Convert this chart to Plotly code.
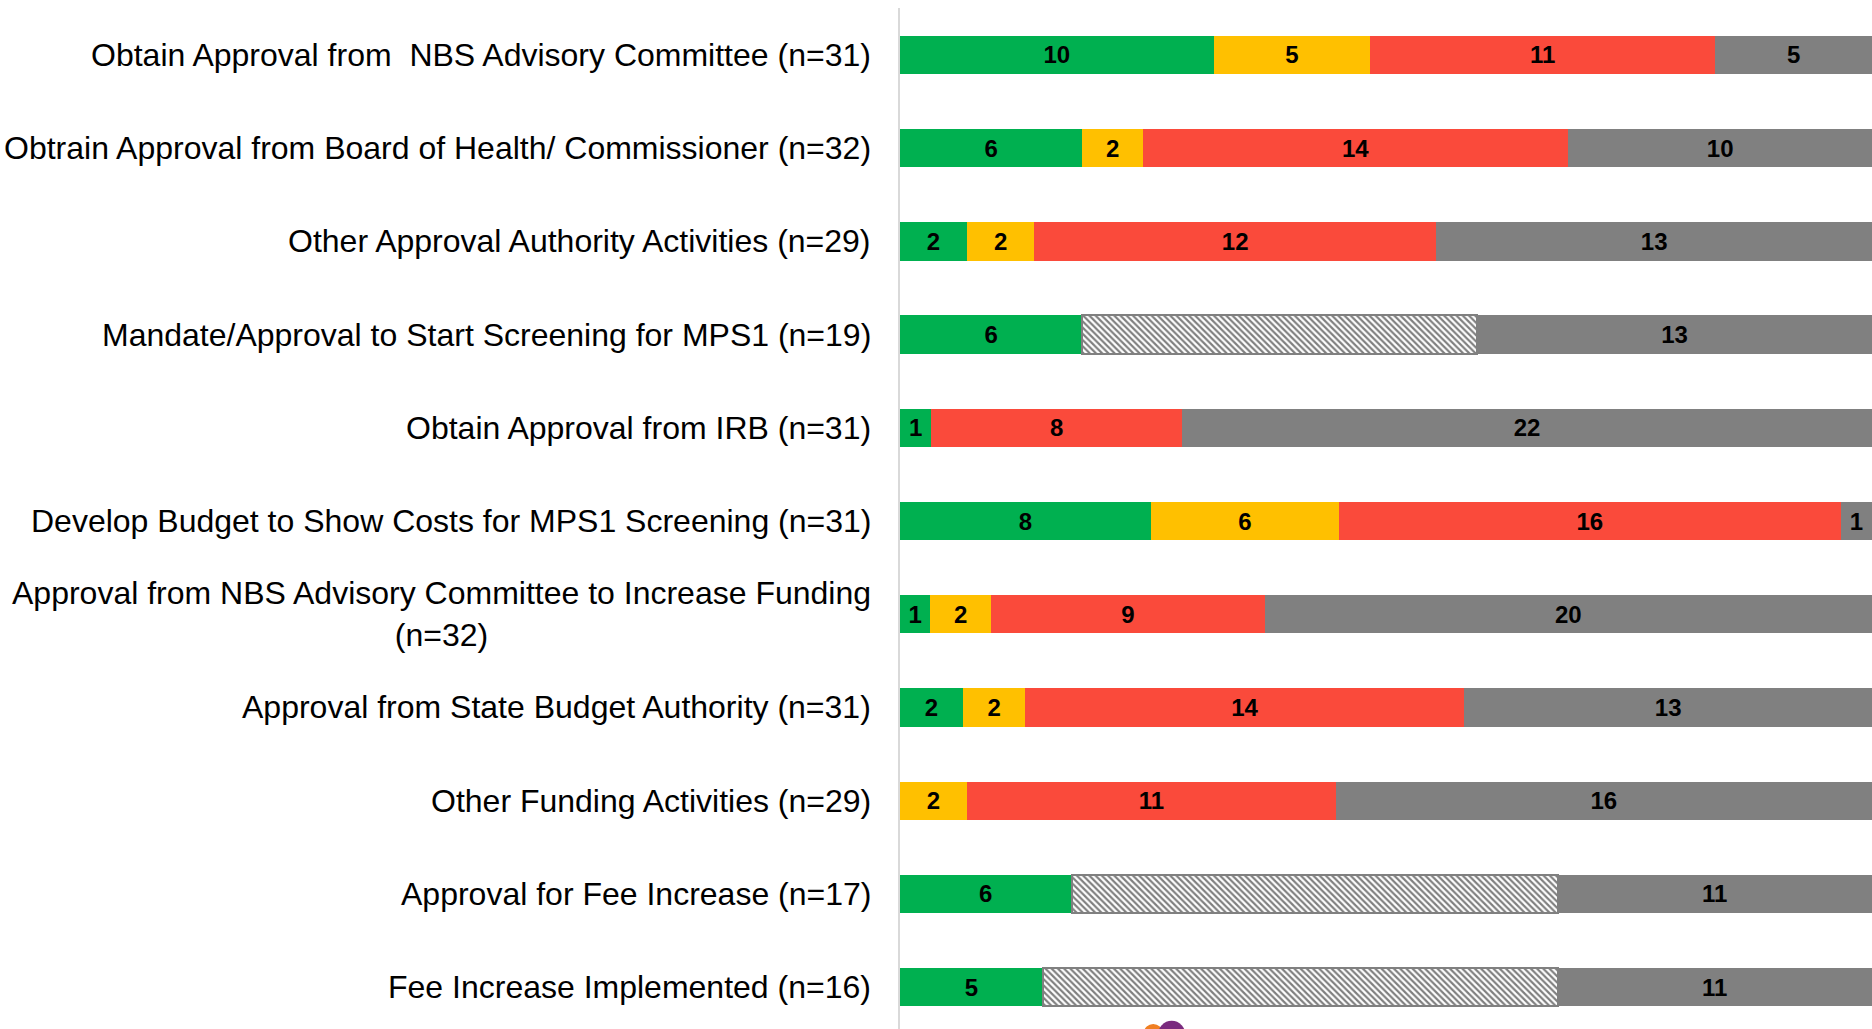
import plotly.graph_objects as go

# rows top to bottom
categories = [
    "Obtain Approval from  NBS Advisory Committee (n=31)",
    "Obtrain Approval from Board of Health/ Commissioner (n=32)",
    "Other Approval Authority Activities (n=29)",
    "Mandate/Approval to Start Screening for MPS1 (n=19)",
    "Obtain Approval from IRB (n=31)",
    "Develop Budget to Show Costs for MPS1 Screening (n=31)",
    "Approval from NBS Advisory Committee to Increase Funding<br>(n=32)",
    "Approval from State Budget Authority (n=31)",
    "Other Funding Activities (n=29)",
    "Approval for Fee Increase (n=17)",
    "Fee Increase Implemented (n=16)",
]
green = [10, 6, 2, 6, 1, 8, 1, 2, None, 6, 5]
yellow = [5, 2, 2, None, None, 6, 2, 2, 2, None, None]
red = [11, 14, 12, None, 8, 16, 9, 14, 11, None, None]
hatched = [None, None, None, 13, None, None, None, None, None, 17, 18]
grey = [5, 10, 13, 13, 22, 1, 20, 13, 16, 11, 11]

FONT = "Liberation Sans, Arial, sans-serif"


def seg(vals, color, name):
    return go.Bar(
        y=categories, x=vals, orientation="h", name=name,
        marker=dict(color=color, line=dict(width=0)),
        text=["" if v is None else str(v) for v in vals],
        texttemplate="%{text}",
        textposition="inside", insidetextanchor="middle",
        textangle=0, constraintext="none",
        textfont=dict(family=FONT, size=24, color="black", weight="bold"),
        hoverinfo="skip",
    )


fig = go.Figure()
fig.add_trace(seg(green, "#00B050", "green"))
fig.add_trace(seg(yellow, "#FFC000", "yellow"))
fig.add_trace(seg(red, "#FA4A3B", "red"))
fig.add_trace(go.Bar(
    y=categories, x=hatched, orientation="h", name="n/a",
    marker=dict(color="white",
                line=dict(color="#808080", width=2),
                pattern=dict(shape="\\", fgcolor="black", bgcolor="white",
                             size=4.4, solidity=0.5)),
    hoverinfo="skip",
))
fig.add_trace(seg(grey, "#808080", "grey"))

# category labels as annotations so the wrapped one is centred
annots = []
for c in categories:
    annots.append(dict(
        x=0, xref="paper", y=c, yref="y", xanchor="right", yanchor="middle",
        xshift=-27, text=c, showarrow=False, align="center",
        font=dict(family=FONT, size=32, color="black"),
    ))

# bit of logo peeking in at the bottom
shapes = [
    dict(type="circle", xref="paper", yref="paper", x0=0.251, x1=0.270,
         y0=-0.012, y1=0.005, fillcolor="#F07F22", line=dict(width=0)),
    dict(type="circle", xref="paper", yref="paper", x0=0.265, x1=0.294,
         y0=-0.022, y1=0.008, fillcolor="#7A2A7E", line=dict(width=0)),
]

fig.update_layout(
    barmode="stack", barnorm="fraction", bargap=0.59,
    width=1872, height=1029,
    margin=dict(l=900, r=0, t=8, b=0),
    plot_bgcolor="white", paper_bgcolor="white",
    showlegend=False,
    annotations=annots,
    shapes=shapes,
    xaxis=dict(range=[0, 1], visible=False, fixedrange=True),
    yaxis=dict(type="category", categoryorder="array", categoryarray=categories,
               range=[10.45, -0.504], showticklabels=False, ticks="",
               showgrid=False, zeroline=False,
               showline=True, linecolor="#D9D9D9", linewidth=2),
)

# page margin off so the figure sits flush in the window
fig.write_html("out.html", config={"displayModeBar": False},
               post_script="document.body.style.margin='0';document.body.style.overflow='hidden';")
